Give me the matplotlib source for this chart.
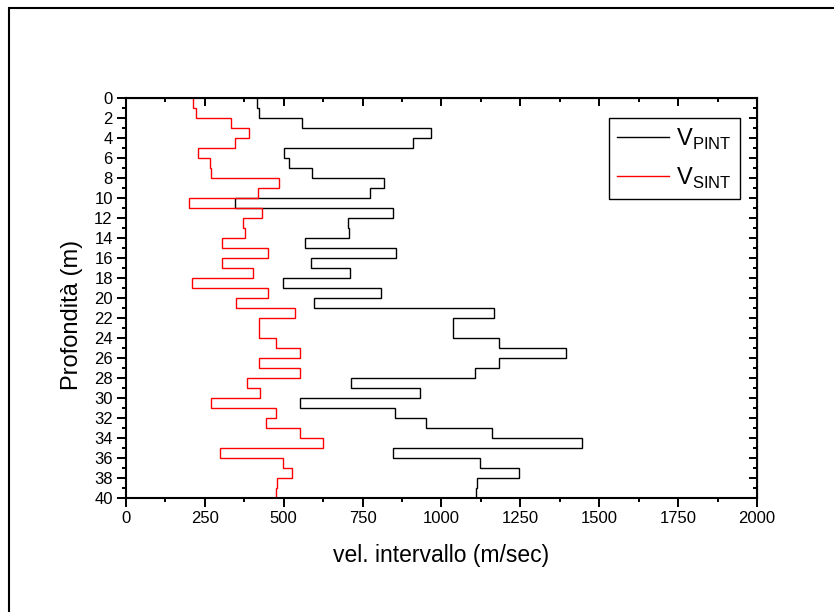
import numpy as np
import matplotlib
matplotlib.use("Agg")
import matplotlib.pyplot as plt
from matplotlib.patches import Rectangle

plt.rcParams["font.family"] = ["Liberation Sans", "DejaVu Sans"]
plt.rcParams["mathtext.fontset"] = "custom"
plt.rcParams["mathtext.rm"] = "Liberation Sans"

# depth of each layer boundary (m)
depth_edges = list(range(0, 41))

# interval velocity per 1 m layer (m/sec)
v_pint = [414, 420, 557, 967, 910, 502, 517, 588, 819, 772,
          344, 846, 703, 707, 568, 857, 586, 709, 499, 807,
          597, 1165, 1035, 1035, 1183, 1395, 1183, 1106, 714, 933,
          553, 853, 950, 1160, 1444, 847, 1122, 1247, 1113, 1110]
v_sint = [212, 222, 333, 390, 347, 227, 266, 270, 484, 418,
          199, 432, 370, 377, 305, 451, 305, 404, 210, 449,
          349, 536, 423, 423, 474, 553, 423, 553, 384, 426,
          270, 477, 443, 553, 623, 298, 499, 525, 480, 476]

x_major = [0, 250, 500, 750, 1000, 1250, 1500, 1750, 2000]
y_major = list(range(0, 41, 2))

fig = plt.figure(figsize=(8.34, 6.12), dpi=100)
ax = fig.add_axes([126 / 834, 1 - 497.7 / 612, 631 / 834, 400 / 612])

ax.stairs(v_pint, depth_edges, orientation="horizontal", baseline=None,
          color="black", lw=1.0, label="V$_{\\mathrm{PINT}}$")
ax.stairs(v_sint, depth_edges, orientation="horizontal", baseline=None,
          color="red", lw=1.0, label="V$_{\\mathrm{SINT}}$")

ax.set_xlim(0, 2000)
ax.set_ylim(40, 0)
ax.set_xticks(x_major)
ax.set_xticks(np.arange(125, 2000, 250), minor=True)
ax.set_yticks(y_major)
ax.set_yticks(range(1, 40, 2), minor=True)
ax.tick_params(which="both", direction="out", width=1.4, labelsize=12)
ax.tick_params(which="major", length=6.5, pad=3)
ax.tick_params(which="minor", length=3.2)
for s in ax.spines.values():
    s.set_linewidth(1.5)

# mirrored axes on top/right with inward ticks, no labels
top = ax.secondary_xaxis("top")
top.set_xticks(x_major)
top.set_xticks(np.arange(125, 2000, 250), minor=True)
top.tick_params(which="both", direction="in", width=1.4, labeltop=False)
top.tick_params(which="major", length=6)
top.tick_params(which="minor", length=3.2)
right = ax.secondary_yaxis("right")
right.set_yticks(y_major)
right.set_yticks(range(1, 40, 2), minor=True)
right.tick_params(which="both", direction="in", width=1.4, labelright=False)
right.tick_params(which="major", length=6)
right.tick_params(which="minor", length=3.2)

ax.set_xlabel("vel. intervallo (m/sec)", fontsize=16.5)
ax.set_ylabel("Profondità (m)", fontsize=17)
ax.xaxis.set_label_coords(0.5, -0.115)
ax.yaxis.set_label_coords(-0.068, 0.457)

leg = ax.legend(loc="upper right", bbox_to_anchor=(0.973, 0.949),
                borderaxespad=0, fontsize=17, handlelength=2.2,
                handletextpad=0.3, labelspacing=0.6, borderpad=0.35,
                fancybox=False, framealpha=1, edgecolor="black")
leg.get_frame().set_linewidth(1.0)

# outer frame of the picture
fig.add_artist(Rectangle((8.5 / 834, -0.1), 1.2, 1.1 - 8 / 612,
                         transform=fig.transFigure, fill=False,
                         lw=1.5, color="black"))

fig.savefig("out.png", dpi=100)
